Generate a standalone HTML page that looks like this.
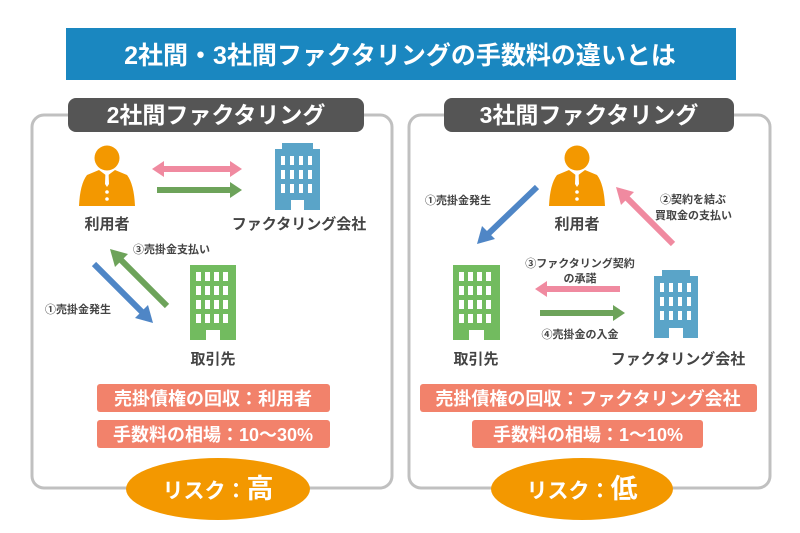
<!DOCTYPE html>
<html><head><meta charset="utf-8"><style>
html,body{margin:0;padding:0;background:#fff;}
svg{display:block;font-family:"Liberation Sans","Noto Sans CJK JP",sans-serif;font-weight:bold;}
</style></head><body>
<svg width="800" height="533" viewBox="0 0 800 533" xmlns="http://www.w3.org/2000/svg">
<defs>
<g id="person">
 <circle cx="0" cy="-12" r="12.5" fill="#f39800"/>
 <path d="M-20,5 L-8,0 L0,6 L8,0 L20,5 Q27,14 28,36 L-28,36 Q-27,14 -20,5Z" fill="#f39800"/>
 <path d="M-1.5,1 L1.5,1 L2,14 L0,17 L-2,14Z" fill="#fff"/>
 <circle cx="0" cy="22" r="1.8" fill="#fff"/><circle cx="0" cy="29" r="1.8" fill="#fff"/>
</g>
</defs>
<!-- title -->
<rect x="66" y="28" width="670" height="52" fill="#1a87c0"/>
<text x="400" y="64" font-size="25" fill="#fff" text-anchor="middle">2社間・3社間ファクタリングの手数料の違いとは</text>

<!-- panels -->
<rect x="32" y="115" width="360" height="373" rx="12" fill="none" stroke="#c0c0c0" stroke-width="3"/>
<rect x="409" y="115" width="361" height="373" rx="12" fill="none" stroke="#c0c0c0" stroke-width="3"/>
<rect x="68" y="98" width="296" height="34" rx="8" fill="#555"/>
<rect x="444" y="98" width="290" height="34" rx="8" fill="#555"/>
<text x="216" y="123" font-size="23" fill="#fff" text-anchor="middle">2社間ファクタリング</text>
<text x="589" y="123" font-size="23" fill="#fff" text-anchor="middle">3社間ファクタリング</text>

<!-- LEFT -->
<use href="#person" x="107" y="170"/>
<text x="107" y="229" font-size="15" fill="#444" text-anchor="middle">利用者</text>
<path d="M275,210 V149 H282 V143 H313 V149 H320 V210 H304 V200 H291 V210Z" fill="#5aa4c8"/>
<g fill="#fff">
<rect x="281" y="156" width="4" height="9"/><rect x="290" y="156" width="4" height="9"/><rect x="299" y="156" width="4" height="9"/><rect x="308" y="156" width="4" height="9"/>
<rect x="281" y="170" width="4" height="9"/><rect x="290" y="170" width="4" height="9"/><rect x="299" y="170" width="4" height="9"/><rect x="308" y="170" width="4" height="9"/>
<rect x="281" y="184" width="4" height="9"/><rect x="290" y="184" width="4" height="9"/><rect x="299" y="184" width="4" height="9"/><rect x="308" y="184" width="4" height="9"/>
</g>
<text x="299" y="229" font-size="15" fill="#444" text-anchor="middle">ファクタリング会社</text>
<path d="M152,169 L164,161 V166 H230 V161 L242,169 L230,177 V172 H164 V177Z" fill="#f08aa0"/>
<path d="M157,187 H230 V182 L242,190 L230,198 V193 H157Z" fill="#6da35a"/>
<path d="M190,340 V265 H236 V340 H220 V330 H206 V340Z" fill="#72bb5f"/>
<g fill="#fff">
<rect x="196" y="272" width="5" height="9"/><rect x="205" y="272" width="5" height="9"/><rect x="214" y="272" width="5" height="9"/><rect x="223" y="272" width="5" height="9"/>
<rect x="196" y="286" width="5" height="9"/><rect x="205" y="286" width="5" height="9"/><rect x="214" y="286" width="5" height="9"/><rect x="223" y="286" width="5" height="9"/>
<rect x="196" y="300" width="5" height="9"/><rect x="205" y="300" width="5" height="9"/><rect x="214" y="300" width="5" height="9"/><rect x="223" y="300" width="5" height="9"/>
<rect x="196" y="314" width="5" height="9"/><rect x="205" y="314" width="5" height="9"/><rect x="214" y="314" width="5" height="9"/><rect x="223" y="314" width="5" height="9"/>
</g>
<text x="213" y="364" font-size="15" fill="#444" text-anchor="middle">取引先</text>
<line x1="94" y1="264" x2="143" y2="313" stroke="#4f86c6" stroke-width="6"/>
<path d="M153,323 L135,318 L148,305Z" fill="#4f86c6"/>
<line x1="167" y1="306" x2="119" y2="258" stroke="#6da35a" stroke-width="6"/>
<path d="M110,249 L128,254 L115,267Z" fill="#6da35a"/>
<text x="133" y="253" font-size="11" fill="#444">③売掛金支払い</text>
<text x="45" y="313" font-size="11" fill="#444">①売掛金発生</text>

<!-- RIGHT -->
<use href="#person" x="577" y="170"/>
<text x="577" y="229" font-size="15" fill="#444" text-anchor="middle">利用者</text>
<line x1="537" y1="187" x2="486" y2="236" stroke="#4f86c6" stroke-width="6"/>
<path d="M477,244 L482,226 L495,239Z" fill="#4f86c6"/>
<line x1="673" y1="244" x2="625" y2="196" stroke="#f08aa0" stroke-width="6"/>
<path d="M616,187 L634,192 L621,205Z" fill="#f08aa0"/>
<text x="425" y="204" font-size="11" fill="#444">①売掛金発生</text>
<text x="660" y="203" font-size="11" fill="#444">②契約を結ぶ</text>
<text x="655" y="219" font-size="11" fill="#444">買取金の支払い</text>
<path d="M453,340 V265 H500 V340 H484 V330 H469 V340Z" fill="#72bb5f"/>
<g fill="#fff">
<rect x="459" y="272" width="5" height="9"/><rect x="468" y="272" width="5" height="9"/><rect x="477" y="272" width="5" height="9"/><rect x="486" y="272" width="5" height="9"/>
<rect x="459" y="286" width="5" height="9"/><rect x="468" y="286" width="5" height="9"/><rect x="477" y="286" width="5" height="9"/><rect x="486" y="286" width="5" height="9"/>
<rect x="459" y="300" width="5" height="9"/><rect x="468" y="300" width="5" height="9"/><rect x="477" y="300" width="5" height="9"/><rect x="486" y="300" width="5" height="9"/>
<rect x="459" y="314" width="5" height="9"/><rect x="468" y="314" width="5" height="9"/><rect x="477" y="314" width="5" height="9"/><rect x="486" y="314" width="5" height="9"/>
</g>
<text x="476" y="364" font-size="15" fill="#444" text-anchor="middle">取引先</text>
<path d="M654,338 V276 H662 V270 H690 V276 H698 V338 H683 V328 H669 V338Z" fill="#5aa4c8"/>
<g fill="#fff">
<rect x="660" y="283" width="4" height="9"/><rect x="669" y="283" width="4" height="9"/><rect x="678" y="283" width="4" height="9"/><rect x="687" y="283" width="4" height="9"/>
<rect x="660" y="297" width="4" height="9"/><rect x="669" y="297" width="4" height="9"/><rect x="678" y="297" width="4" height="9"/><rect x="687" y="297" width="4" height="9"/>
<rect x="660" y="311" width="4" height="9"/><rect x="669" y="311" width="4" height="9"/><rect x="678" y="311" width="4" height="9"/><rect x="687" y="311" width="4" height="9"/>
</g>
<text x="678" y="364" font-size="15" fill="#444" text-anchor="middle">ファクタリング会社</text>
<path d="M535,289 L547,281 V286 H620 V292 H547 V297Z" fill="#f08aa0"/>
<path d="M540,310 H613 V305 L625,313 L613,321 V316 H540Z" fill="#6da35a"/>
<text x="580" y="267" font-size="11" fill="#444" text-anchor="middle">③ファクタリング契約</text>
<text x="580" y="282" font-size="11" fill="#444" text-anchor="middle">の承諾</text>
<text x="580" y="338" font-size="11" fill="#444" text-anchor="middle">④売掛金の入金</text>

<g fill="#f2826b">
<rect x="97" y="384" width="233" height="28" rx="3"/>
<rect x="97" y="420" width="233" height="28" rx="3"/>
<rect x="420" y="384" width="337" height="28" rx="3"/>
<rect x="472" y="420" width="231" height="28" rx="3"/>
</g>
<g font-size="18" fill="#fff" text-anchor="middle">
<text x="213" y="405">売掛債権の回収：利用者</text>
<text x="213" y="441">手数料の相場：10〜30%</text>
<text x="588" y="405">売掛債権の回収：ファクタリング会社</text>
<text x="588" y="441">手数料の相場：1〜10%</text>
</g>
<ellipse cx="218" cy="489" rx="92" ry="31" fill="#f39800"/>
<ellipse cx="582" cy="489" rx="91" ry="31" fill="#f39800"/>
<text x="218" y="498" font-size="21" fill="#fff" text-anchor="middle">リスク：<tspan font-size="27">高</tspan></text>
<text x="582" y="498" font-size="21" fill="#fff" text-anchor="middle">リスク：<tspan font-size="27">低</tspan></text>
</svg>
</body></html>
